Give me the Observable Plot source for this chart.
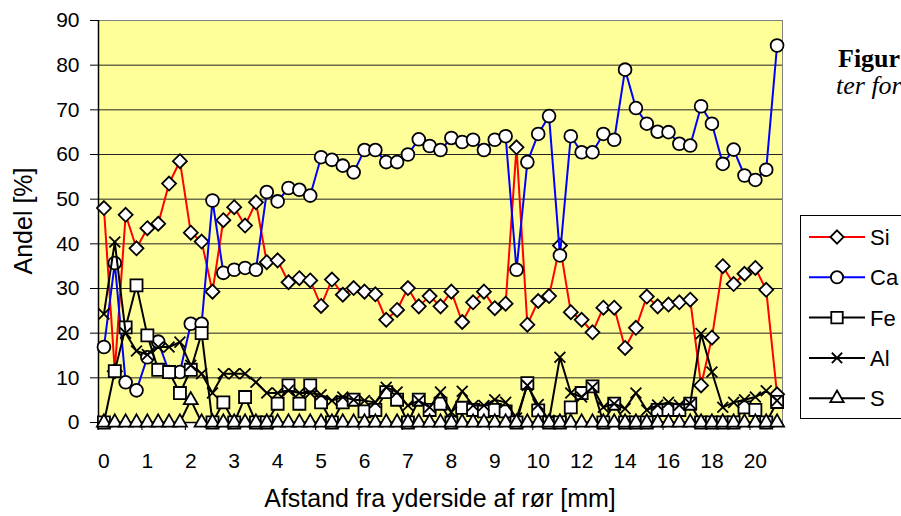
<!DOCTYPE html>
<html><head><meta charset="utf-8">
<script src="https://cdn.jsdelivr.net/npm/d3@7"></script>
<script src="https://cdn.jsdelivr.net/npm/@observablehq/plot@0.6"></script>
<style>
html,body{margin:0;padding:0;background:#fff;}
#wrap{position:relative;width:901px;height:516px;overflow:hidden;font-family:"Liberation Sans",Arial,sans-serif;}
#wrap svg{display:block}
#overlay{position:absolute;left:0;top:0;pointer-events:none}
</style></head><body><div id="wrap"></div>
<script>
// Distance from outer side of pipe [mm] (category axis: 0.25 mm steps to 10, then 0.5 mm steps)
const distance = [0,0.25,0.5,0.75,1,1.25,1.5,1.75,2,2.25,2.5,2.75,3,3.25,3.5,3.75,4,4.25,4.5,4.75,5,5.25,5.5,5.75,6,6.25,6.5,6.75,7,7.25,7.5,7.75,8,8.25,8.5,8.75,9,9.25,9.5,9.75,10,10.5,11,11.5,12,12.5,13,13.5,14,14.5,15,15.5,16,16.5,17,17.5,18,18.5,19,19.5,20,20.5,21];

const si = [48,11.5,46.5,39,43.5,44.5,53.5,58.5,42.5,40.5,29.3,45.3,48.2,44.1,49.3,35.9,36.3,31.4,32.3,31.8,26.1,32,28.6,30.1,29.3,28.7,23,25.2,30.1,26,28.3,26,29.3,22.5,26.9,29.3,25.6,26.6,61.6,21.9,27.2,28.3,39.6,24.7,23,20.2,25.7,25.7,16.7,21.2,28.2,26,26.4,26.9,27.5,8.3,19,35,31,33.3,34.6,29.7,6.3];
const ca = [16.9,35.7,9,7.2,14.6,18.1,11.3,11.3,22.1,22.1,49.7,33.5,34.2,34.6,34.2,51.6,49.5,52.5,52.1,50.8,59.4,58.8,57.5,56,61,61,58.3,58.3,60,63.4,61.9,61,63.7,62.8,63.3,61,63.3,64.1,34.2,58.3,64.6,68.6,37.4,64.1,60.5,60.5,64.6,63.3,79,70.4,66.9,65.1,65,62.4,62,70.8,66.9,57.9,61.1,55.3,54.3,56.6,84.4];
const fe = [0,11.5,21.3,30.7,19.5,11.8,11.3,6.6,11.8,20,0,4.5,0,5.7,0,0,4.2,8.3,4.2,8.3,4.5,0,4.5,5.1,2.5,2.8,6.8,5.1,0,5.1,2.8,4.2,0,3.3,2.8,2.5,2.8,2.5,0,8.8,2.7,0,0,3.4,6.6,8.1,0,4.2,0,0,0,2.8,2.8,2.8,4.2,0,0,0,0,3.4,2.8,0,4.6];
const al = [24.3,40.4,20,16,15.2,16.9,16.9,18,12.8,10.9,6.6,10.9,10.9,10.9,9,6.6,6.6,7.2,6.6,6.6,6.2,4.9,5.7,5.1,4.9,4.5,7.9,6.8,3.8,4.9,3.4,6.8,2.3,7,3.8,3.8,5.1,4.5,1,8.3,4,0.5,14.6,6.6,5.7,7.9,3.4,4.2,3.1,6.6,2.8,3.9,4.5,3.9,4.2,19.9,11.3,3.4,4.5,5.1,5.7,7.1,4.9];
const s  = [0,0,0,0,0,0,0,0,5,0,0,0,0,0,0,0,0,0,0,0,0,0,0,0,0,0,0,0,0,0,0,0,0,0,0,0,0,0,0,0,0,0,0,0,0,0,0,0,0,0,0,0,0,0,0,0,0,0,0,0,0,0,0];

const seriesNames = ["Si","Ca","Fe","Al","S"];
const seriesColors = ["#FF0000","#0000FF","#000000","#000000","#000000"];
const seriesSymbols = ["diamond2","circle","square","times","triangle"];
const seriesRadius = [6.3,6.4,6.8,5,5.2];
const yTicks = [0,10,20,30,40,50,60,70,80,90];
const xLabelStep = 4;
</script>
<script>
const values = [si, ca, fe, al, s];
const n = distance.length;
const rows = seriesNames.map((name, k) => values[k].map((v, i) => ({series: name, i, dist: distance[i], v})));
const xTickIdx = d3.range(0, n, xLabelStep);
const xBounds = d3.range(-0.5, n - 1, xLabelStep);

const marks = [
  Plot.frame({fill: "#FFFF99", stroke: "#808080"}),
  Plot.ruleY(yTicks.slice(1, -1), {stroke: "#222", strokeWidth: 1}),
  Plot.ruleY([0], {stroke: "#000", strokeWidth: 1.5}),
  Plot.ruleX([-0.5], {stroke: "#000", strokeWidth: 1.5}),
  Plot.ruleX(xBounds, {y1: 0, y2: 0, insetBottom: -8, stroke: "#000", strokeWidth: 1})
];
rows.forEach((data, k) => {
  marks.push(Plot.line(data, {x: "i", y: "v", stroke: seriesColors[k], strokeWidth: 2}));
  marks.push(Plot.dot(data, {x: "i", y: "v", symbol: seriesSymbols[k], r: seriesRadius[k], fill: "white", stroke: "black", strokeWidth: 1.8}));
});

const chart = Plot.plot({
  width: 901, height: 516,
  marginLeft: 98, marginRight: 119, marginTop: 20, marginBottom: 94,
  x: {type: "linear", domain: [-0.5, n - 0.5], ticks: xTickIdx, tickFormat: i => String(distance[i]), tickSize: 0, tickPadding: 31, label: null},
  y: {domain: [0, 90], ticks: yTicks, tickSize: 8, tickPadding: 11, label: null},
  style: {fontSize: "21px", fontFamily: "'Liberation Sans', Arial, sans-serif", color: "black", background: "white", overflow: "visible"},
  marks
});
document.getElementById("wrap").appendChild(chart);

// Axis titles and overlay (legend, cut-off document text)
const ov = d3.select("#wrap").append("svg").attr("id", "overlay").attr("width", 901).attr("height", 516);
ov.append("text").attr("x", 440).attr("y", 507).attr("text-anchor", "middle")
  .style("font", "25px 'Liberation Sans', Arial, sans-serif").text("Afstand fra yderside af rør [mm]");
ov.append("text").attr("transform", "translate(32,221) rotate(-90)").attr("text-anchor", "middle")
  .style("font", "25px 'Liberation Sans', Arial, sans-serif").text("Andel [%]");
ov.append("text").attr("x", 838).attr("y", 67)
  .style("font", "bold 26px 'Liberation Serif', 'Times New Roman', serif").text("Figur");
ov.append("text").attr("x", 836).attr("y", 94)
  .style("font", "italic 26px 'Liberation Serif', 'Times New Roman', serif").text("ter for");

const lg = ov.append("g");
lg.append("rect").attr("x", 800.5).attr("y", 215.5).attr("width", 130).attr("height", 203)
  .attr("fill", "white").attr("stroke", "black").attr("stroke-width", 1);
const symMap = {diamond2: d3.symbolDiamond2, circle: d3.symbolCircle, square: d3.symbolSquare, times: d3.symbolTimes, triangle: d3.symbolTriangle};
seriesNames.forEach((name, k) => {
  const y = 237 + k * 40.3;
  lg.append("line").attr("x1", 809).attr("x2", 865).attr("y1", y).attr("y2", y)
    .attr("stroke", seriesColors[k]).attr("stroke-width", 2);
  const r = seriesRadius[k] * 0.95;
  lg.append("path").attr("transform", `translate(837,${y})`)
    .attr("d", d3.symbol(symMap[seriesSymbols[k]], Math.PI * r * r)())
    .attr("fill", seriesSymbols[k] === "times" ? "none" : "white").attr("stroke", "black").attr("stroke-width", 1.8);
  lg.append("text").attr("x", 870).attr("y", y).attr("dy", "0.36em")
    .style("font", "22px 'Liberation Sans', Arial, sans-serif").text(name);
});
</script>
</body></html>
